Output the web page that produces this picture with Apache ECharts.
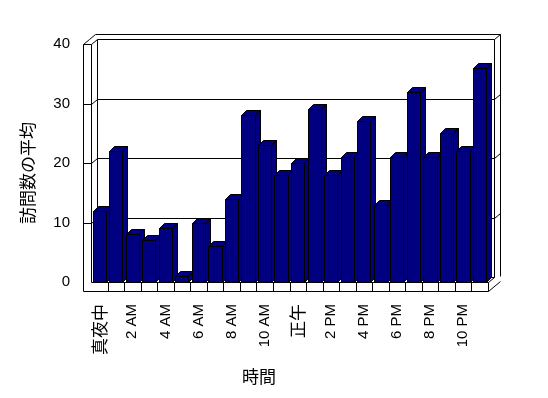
<!DOCTYPE html>
<html><head><meta charset="utf-8">
<script src="https://cdn.jsdelivr.net/npm/echarts@6/dist/echarts.min.js"></script>
<style>html,body{margin:0;padding:0;background:#fff}#c{width:548px;height:398px}</style>
</head><body><div id="c"></div>
<script>
const categories = ['真夜中','1 AM','2 AM','3 AM','4 AM','5 AM','6 AM','7 AM','8 AM','9 AM','10 AM','11 AM','正午','1 PM','2 PM','3 PM','4 PM','5 PM','6 PM','7 PM','8 PM','9 PM','10 PM','11 PM'];
const visits = [12,22,8,7,9,1,10,6,14,28,23,18,20,29,18,21,27,13,21,32,21,25,22,36];
const gridValues = [10,20,30];
const xTitle = '時間';
const yTitle = '訪問数の平均';

const LATIN = 'Liberation Sans, Arial, sans-serif';
const CJK = '"Noto Sans CJK JP", sans-serif';
const BAR = '#000080';
const DX = 6, DY = 5;      // depth offset of the back wall
const BDX = 5, BDY = 5;    // depth of each bar
const WALL = 8;            // left wall / floor thickness

const chart = echarts.init(document.getElementById('c'), null, {renderer: 'canvas'});
const P = v => Math.round(v) + 0.5;
const lineStyle = {stroke: '#000', lineWidth: 1, fill: null};

function frameItem(params, api) {
  const cs = params.coordSys;
  const L = P(cs.x), R = P(cs.x + cs.width), T = P(cs.y), B = P(cs.y + cs.height);
  const OL = L - WALL;
  const FB = B + WALL + 1;
  const ch = [];
  const seg = (pts) => ch.push({type: 'polyline', shape: {points: pts}, style: lineStyle, silent: true});
  // back wall front face outline
  seg([[L + DX, B - DY], [L + DX, T - DY], [R + DX, T - DY], [R + DX, B - DY]]);
  seg([[L + DX, B - DY], [R + DX, B - DY]]);
  // back wall top and right thickness
  seg([[OL, T], [OL + DX, T - DY], [OL + 2 * DX, T - 2 * DY], [R + 2 * DX, T - 2 * DY], [R + 2 * DX, B - DY - 1]]);
  seg([[R + DX, T - DY], [R + 2 * DX, T - 2 * DY]]);
  // left wall
  seg([[OL, T], [OL, FB]]);
  seg([[L, T], [L, B]]);
  seg([[OL, T], [L, T], [L + DX, T - DY]]);
  // floor front face
  seg([[OL, FB], [R, FB], [R, B], [L, B]]);
  const bw = api.size([1, 0])[0];
  for (let i = 1; i < categories.length; i++) {
    const x = P(api.coord([i, 0])[0] - bw / 2);
    seg([[x, B], [x, FB]]);
  }
  // floor right side
  seg([[R, B], [R + DX, B - DY]]);
  seg([[R, FB], [R + 2 * DX, FB - 2 * DY]]);
  // grid lines across left wall, back wall and its right edge
  gridValues.forEach(v => {
    const y = P(api.coord([0, v])[1]);
    seg([[OL, y], [L, y], [L + DX, y - DY], [R + DX, y - DY], [R + 2 * DX, y - 2 * DY]]);
  });
  return {type: 'group', children: ch};
}

function barItem(params, api) {
  const i = api.value(0), v = api.value(1);
  const base = api.coord([i, 0]);
  const top = api.coord([i, v]);
  const bw = api.size([1, 0])[0];
  const x0 = P(base[0] - bw / 2 + 1.5);
  const x1 = P(base[0] - bw / 2 + 1.5 + bw * 0.8);
  const yb = P(base[1]), yt = P(top[1]);
  const st = {fill: BAR, stroke: '#000', lineWidth: 1};
  return {type: 'group', children: [
    {type: 'polygon', shape: {points: [[x1, yt], [x1 + BDX, yt - BDY], [x1 + BDX, yb - BDY], [x1, yb]]}, style: st},
    {type: 'polygon', shape: {points: [[x0, yt], [x0 + BDX, yt - BDY], [x1 + BDX, yt - BDY], [x1, yt]]}, style: st},
    {type: 'rect', shape: {x: x0, y: yt, width: x1 - x0, height: yb - yt}, style: st}
  ]};
}

const hasCJK = s => /[\u3000-\u9fff]/.test(s);

chart.setOption({
  animation: false,
  backgroundColor: '#fff',
  grid: {left: 91, right: 60, top: 44, bottom: 116, containLabel: false},
  xAxis: {
    type: 'category', data: categories,
    axisLine: {show: false}, axisTick: {show: false},
    axisLabel: {
      interval: 1, rotate: 90, margin: 22, color: '#000', fontSize: 15, fontFamily: LATIN,
      formatter: s => hasCJK(s) ? '{j|' + s + '}' : s,
      rich: {j: {fontFamily: CJK, fontSize: 17, color: '#000'}}
    }
  },
  yAxis: {
    type: 'value', min: 0, max: 40, interval: 10,
    axisLine: {show: false}, axisTick: {show: false}, splitLine: {show: false},
    axisLabel: {margin: 21, color: '#000', fontSize: 15, fontFamily: LATIN}
  },
  graphic: [
    {type: 'text', x: 259, y: 377, style: {text: xTitle, x: 0, y: 0, font: '17px ' + CJK, fill: '#000', align: 'center', verticalAlign: 'middle'}},
    {type: 'text', x: 28, y: 173, rotation: Math.PI / 2, style: {text: yTitle, x: 0, y: 0, font: '17px ' + CJK, fill: '#000', align: 'center', verticalAlign: 'middle'}}
  ],
  series: [
    {type: 'custom', renderItem: frameItem, data: [[0, 0]], z: 1, silent: true, clip: false},
    {type: 'custom', renderItem: barItem, data: visits.map((v, i) => [i, v]), z: 2, clip: false,
     encode: {x: 0, y: 1}}
  ]
});
</script></body></html>
